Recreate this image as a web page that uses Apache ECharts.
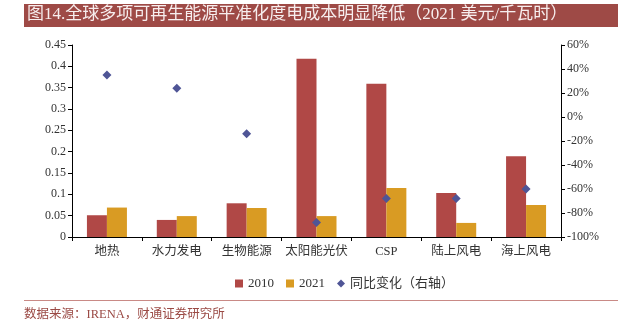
<!DOCTYPE html>
<html>
<head>
<meta charset="utf-8">
<script src="https://cdn.jsdelivr.net/npm/echarts@6/dist/echarts.min.js"></script>
<style>html,body{margin:0;padding:0;background:#fff;}#c{width:633px;height:330px;}</style>
</head>
<body>
<div id="c"></div>
<script>
const categories = ['地热', '水力发电', '生物能源', '太阳能光伏', 'CSP', '陆上风电', '海上风电'];
const cost2010 = [0.051, 0.040, 0.079, 0.418, 0.359, 0.103, 0.189];
const cost2021 = [0.069, 0.049, 0.068, 0.049, 0.115, 0.033, 0.075];
const yoyChange = [35, 24, -14, -88, -68, -68, -60];
const titleText = '图14.全球多项可再生能源平准化度电成本明显降低（2021 美元/千瓦时）';
const sourceText = '数据来源：IRENA，财通证券研究所';

const FONT = "'Liberation Serif', 'Noto Sans CJK SC', serif";
const chart = echarts.init(document.getElementById('c'));
chart.setOption({
  animation: false,
  backgroundColor: '#fff',
  textStyle: { fontFamily: FONT },
  graphic: [
    { type: 'rect', shape: { x: 24, y: 4, width: 594, height: 23 }, style: { fill: '#9E4A46' } },
    { type: 'text', left: 27, top: 6, style: { text: titleText, fill: '#F7EEEE', font: "17px " + FONT } },
    { type: 'line', shape: { x1: 24, y1: 300.5, x2: 618, y2: 300.5 }, style: { stroke: '#C98A86', lineWidth: 1 } },
    { type: 'text', left: 24, top: 308, style: { text: sourceText, fill: '#9B4A45', font: "12.5px " + FONT } }
  ],
  legend: {
    left: 230, top: 272,
    itemWidth: 8, itemHeight: 8, itemGap: 12,
    textStyle: { fontSize: 13, color: '#333', fontFamily: FONT },
    data: [
      { name: '2010', icon: 'rect' },
      { name: '2021', icon: 'rect' },
      { name: '同比变化（右轴）', icon: 'diamond' }
    ]
  },
  grid: { left: 72, right: 72, top: 45, bottom: 93 },
  xAxis: {
    type: 'category',
    data: categories,
    axisLine: { lineStyle: { color: '#000', width: 1 } },
    axisTick: { show: true, length: 4, lineStyle: { color: '#000' } },
    axisLabel: { color: '#333', fontSize: 12.5, margin: 8, interval: 0, fontFamily: FONT }
  },
  yAxis: [
    {
      type: 'value', min: 0, max: 0.45, interval: 0.05,
      axisLine: { show: true, lineStyle: { color: '#000' } },
      axisTick: { show: true, length: 4, lineStyle: { color: '#000' } },
      splitLine: { show: false },
      axisLabel: { color: '#333', fontSize: 12, margin: 6, fontFamily: FONT }
    },
    {
      type: 'value', min: -100, max: 60, interval: 20,
      position: 'right',
      axisLine: { show: true, lineStyle: { color: '#000' } },
      axisTick: { show: true, length: 4, lineStyle: { color: '#000' } },
      splitLine: { show: false },
      axisLabel: { color: '#333', fontSize: 12, margin: 6, formatter: '{value}%', fontFamily: FONT }
    }
  ],
  series: [
    { name: '2010', type: 'bar', data: cost2010, barWidth: 20, barGap: '0%', itemStyle: { color: '#B04846' } },
    { name: '2021', type: 'bar', data: cost2021, barWidth: 20, barGap: '0%', itemStyle: { color: '#D99B23' } },
    { name: '同比变化（右轴）', type: 'scatter', yAxisIndex: 1, data: yoyChange, symbol: 'diamond', symbolSize: 9, itemStyle: { color: '#4F5596', opacity: 1 }, z: 5 }
  ]
});
</script>
</body>
</html>
